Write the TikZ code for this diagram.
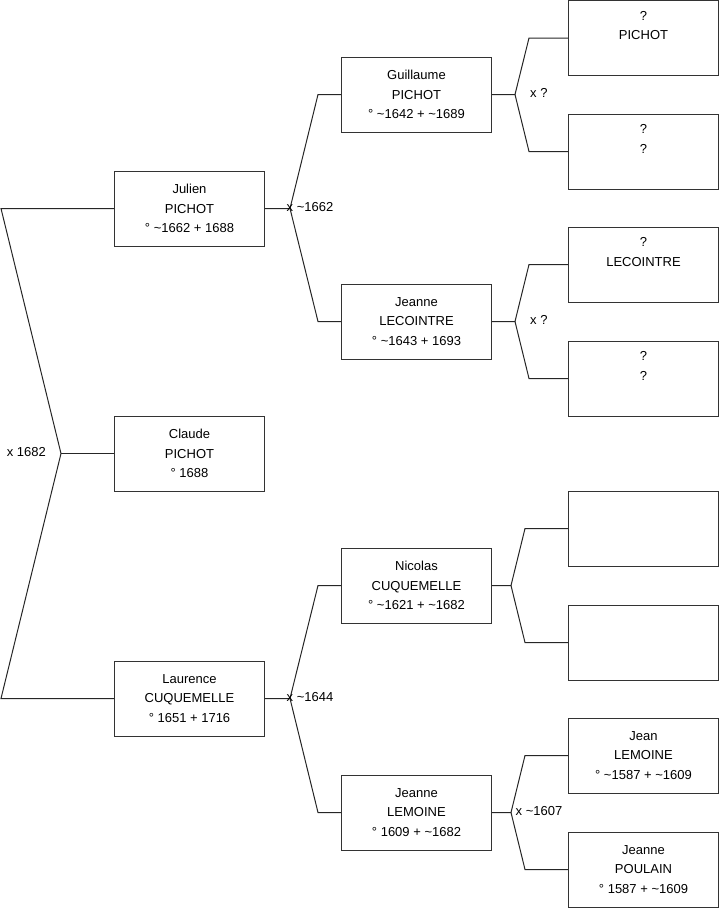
\documentclass[tikz,border=0pt]{standalone}
\usepackage{fontspec}
\setmainfont{Liberation Sans}
\usepackage{tikz}
\usetikzlibrary{positioning}

\begin{document}
\begin{tikzpicture}[
  x=1pt,y=-1pt,
  box/.style={draw=black!80, line width=1pt, minimum width=150pt, minimum height=75pt, align=center, inner sep=0pt, font=\fontsize{13}{19.5}\selectfont},
  lab/.style={inner sep=0pt, font=\fontsize{13}{15}\selectfont},
  link/.style={draw=black!85, line width=1pt}
]
\useasboundingbox (0,0) rectangle (719,908);
% generation 1
\node[box] (jul) at (189.5,208.5) {Julien\\PICHOT\\° \textasciitilde 1662 + 1688};
\node[box] (cla) at (189.5,453.5) {Claude\\PICHOT\\° 1688};
\node[box] (lau) at (189.5,698.5) {Laurence\\CUQUEMELLE\\° 1651 + 1716};
% generation 2
\node[box] (gui) at (416.5,94.5) {Guillaume\\PICHOT\\° \textasciitilde 1642 + \textasciitilde 1689};
\node[box] (jlc) at (416.5,321.5) {Jeanne\\LECOINTRE\\° \textasciitilde 1643 + 1693};
\node[box] (nic) at (416.5,585.5) {Nicolas\\CUQUEMELLE\\° \textasciitilde 1621 + \textasciitilde 1682};
\node[box] (jlm) at (416.5,812.5) {Jeanne\\LEMOINE\\° 1609 + \textasciitilde 1682};
% generation 3
\node[box] (p1) at (643.5,38) {?\\PICHOT\\\strut};
\node[box] (p2) at (643.5,151.5) {?\\?\\\strut};
\node[box] (p3) at (643.5,264.5) {?\\LECOINTRE\\\strut};
\node[box] (p4) at (643.5,378.5) {?\\?\\\strut};
\node[box] (p5) at (643.5,528.5) {};
\node[box] (p6) at (643.5,642.5) {};
\node[box] (p7) at (643.5,755.5) {Jean\\LEMOINE\\° \textasciitilde 1587 + \textasciitilde 1609};
\node[box] (p8) at (643.5,869.5) {Jeanne\\POULAIN\\° 1587 + \textasciitilde 1609};

% forks
\coordinate (f0) at (61,453.5);
\coordinate (f0a) at (1,208.5);
\coordinate (f0b) at (1,698.5);
\draw[link] (jul.west) -- (f0a) -- (f0) -- (f0b) -- (lau.west);
\draw[link] (f0) -- (cla.west);
\node[lab, anchor=east] (m0) at (46,452) {x 1682};

\coordinate (f1) at (290,208.5);
\draw[link] (jul.east) -- (f1) -- (318,94.5) -- (gui.west);
\draw[link] (f1) -- (318,321.5) -- (jlc.west);
\node[lab, anchor=west] (m1) at (286.5,207) {x \textasciitilde 1662};

\coordinate (f2) at (290,698.5);
\draw[link] (lau.east) -- (f2) -- (318,585.5) -- (nic.west);
\draw[link] (f2) -- (318,812.5) -- (jlm.west);
\node[lab, anchor=west] (m2) at (286.5,697) {x \textasciitilde 1644};

\coordinate (f3) at (515,94.5);
\draw[link] (gui.east) -- (f3) -- (529,38) -- (p1.west);
\draw[link] (f3) -- (529,151.5) -- (p2.west);
\node[lab, anchor=west] (m3) at (530,93) {x ?};

\coordinate (f4) at (515,321.5);
\draw[link] (jlc.east) -- (f4) -- (529,264.5) -- (p3.west);
\draw[link] (f4) -- (529,378.5) -- (p4.west);
\node[lab, anchor=west] (m4) at (530,320) {x ?};

\coordinate (f5) at (511,585.5);
\draw[link] (nic.east) -- (f5) -- (525,528.5) -- (p5.west);
\draw[link] (f5) -- (525,642.5) -- (p6.west);

\coordinate (f6) at (511,812.5);
\draw[link] (jlm.east) -- (f6) -- (525,755.5) -- (p7.west);
\draw[link] (f6) -- (525,869.5) -- (p8.west);
\node[lab, anchor=west] (m6) at (515.5,811) {x \textasciitilde 1607};
\end{tikzpicture}
\end{document}
